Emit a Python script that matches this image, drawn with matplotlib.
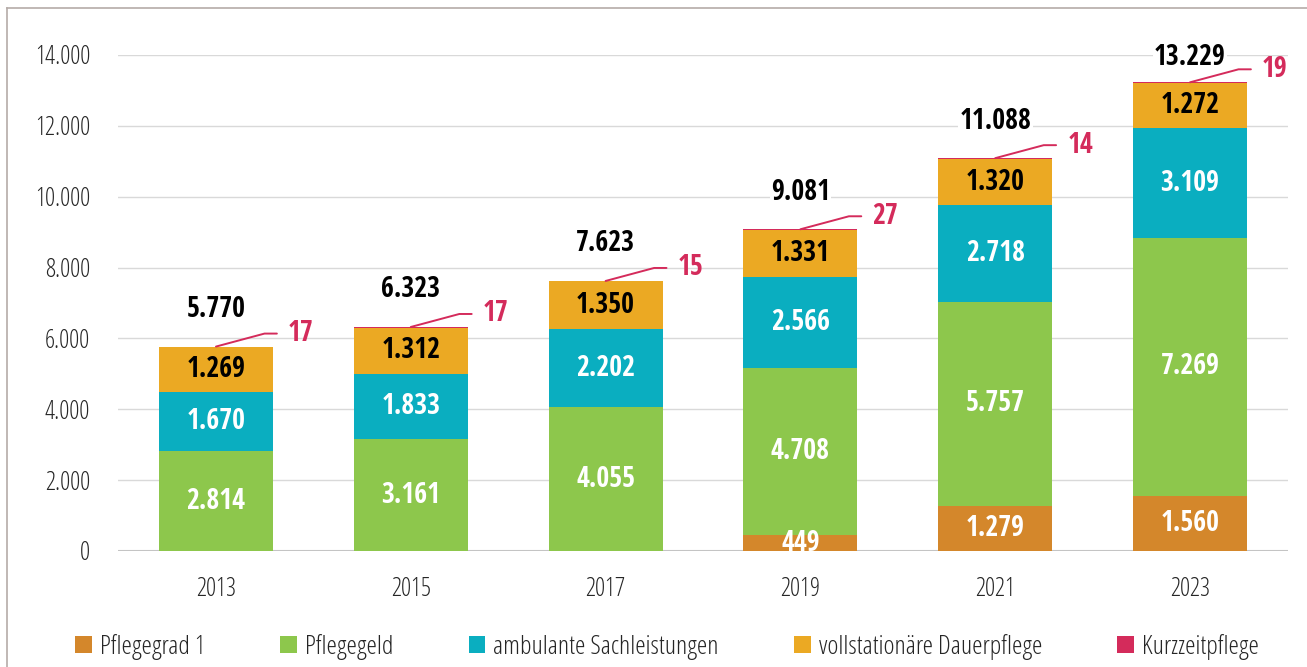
import matplotlib
matplotlib.use('Agg')
import matplotlib.pyplot as plt
import numpy as np
from matplotlib.lines import Line2D

years = ['2013', '2015', '2017', '2019', '2021', '2023']
pflegegrad1 = [0, 0, 0, 449, 1279, 1560]
pflegegeld = [2814, 3161, 4055, 4708, 5757, 7269]
ambulant = [1670, 1833, 2202, 2566, 2718, 3109]
vollstationaer = [1269, 1312, 1350, 1331, 1320, 1272]
kurzzeit = [17, 17, 15, 27, 14, 19]
totals = [5770, 6323, 7623, 9081, 11088, 13229]

names = ['Pflegegrad 1', 'Pflegegeld', 'ambulante Sachleistungen',
         'vollstationäre Dauerpflege', 'Kurzzeitpflege']
colors = ['#d4872b', '#8dc74c', '#0aaec0', '#eba923', '#d42b5b']
text_colors = ['white', 'white', 'white', 'black', None]

LIGHT = ['Open Sans', 'DejaVu Sans']
BOLD = ['Open Sans Condensed', 'Open Sans', 'DejaVu Sans']
plt.rcParams['font.family'] = LIGHT
plt.rcParams['font.stretch'] = 'condensed'


def fmt(v):
    return f'{v:,}'.replace(',', '.')


fig = plt.figure(figsize=(13.07, 6.67), dpi=100)
ax = fig.add_axes([118/1307, 1-551/667, 1170/1307, 496/667])

x = np.arange(len(years))
bottom = np.zeros(len(years))
series = [pflegegrad1, pflegegeld, ambulant, vollstationaer, kurzzeit]
for vals, name, c, tc in zip(series, names, colors, text_colors):
    vals = np.array(vals)
    ax.bar(x, vals, 0.585, bottom=bottom, color=c, label=name, zorder=2)
    if tc is not None:
        for xi, v, b in zip(x, vals, bottom):
            if v > 0:
                ax.text(xi, b + v/2, fmt(v), ha='center', va='center', color=tc,
                        fontsize=20, fontweight='bold', family=BOLD, zorder=3)
    bottom = bottom + vals

# Summen über den Balken
for i, (xi, top, tot) in enumerate(zip(x, bottom, totals)):
    off = 25 if i == len(x) - 1 else 37
    ax.annotate(fmt(tot), xy=(xi, top), xytext=(0, off), textcoords='offset pixels',
                ha='center', va='center', fontsize=20, fontweight='bold', family=BOLD,
                color='black', bbox=dict(fc='white', ec='none', pad=1), zorder=4,
                annotation_clip=False)

# Kurzzeitpflege mit Linie
for xi, top, k in zip(x, bottom, kurzzeit):
    ax.annotate(str(k), xy=(xi, top), xytext=(72, 13), textcoords='offset pixels',
                ha='left', va='center', fontsize=20, fontweight='bold', family=BOLD,
                color=colors[4], zorder=4, annotation_clip=False,
                arrowprops=dict(arrowstyle='-', color=colors[4], lw=1.4, shrinkA=6, shrinkB=0,
                                relpos=(0, 0.5),
                                connectionstyle='angle,angleA=0,angleB=15,rad=0'))

ax.set_xlim(-0.503, 5.503)
ax.set_ylim(0, 14000)
ax.set_yticks(range(0, 14001, 2000))
ax.set_yticklabels([fmt(v) for v in range(0, 14001, 2000)])
ax.set_xticks(x)
ax.set_xticklabels(years)
ax.tick_params(axis='both', length=0, labelsize=18, labelcolor='#262626')
ax.tick_params(axis='y', pad=20)
ax.tick_params(axis='x', pad=19)
for lab in ax.get_xticklabels() + ax.get_yticklabels():
    lab.set_fontweight('light')
for s in ax.spines.values():
    s.set_visible(False)
ax.grid(axis='y', color='#d9d9d9', lw=1, zorder=0)
ax.axhline(0, color='#bfbfbf', lw=1.5, zorder=1.5)

leg = fig.legend(loc='center', bbox_to_anchor=(667/1307, 1-647/667), ncol=5, frameon=False,
                 handlelength=0.64, handleheight=0.64, handletextpad=0.3,
                 columnspacing=2.84, prop={'weight': 'light', 'size': 19})
for t in leg.get_texts():
    t.set_color('#262626')

fig.add_artist(Line2D([7/1307, 7/1307], [0, 1-8/667], transform=fig.transFigure,
                      color='#b5aca8', lw=1.2))
fig.add_artist(Line2D([7/1307, 1], [1-8/667, 1-8/667], transform=fig.transFigure,
                      color='#b5aca8', lw=1.2))

fig.savefig('out.png', dpi=100)
